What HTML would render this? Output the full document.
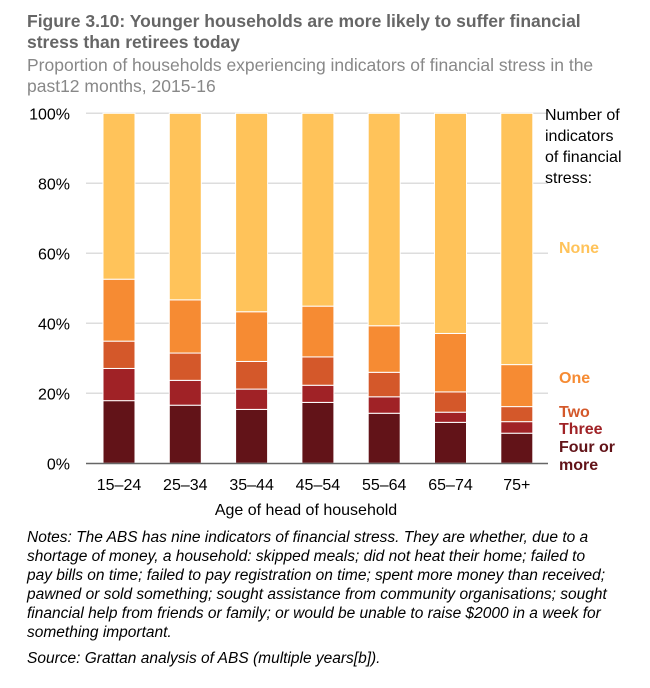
<!DOCTYPE html>
<html><head><meta charset="utf-8"><style>
body{margin:0;background:#fff;width:650px;height:688px;overflow:hidden;font-family:"Liberation Sans",sans-serif}
svg{position:absolute;left:0;top:0}
</style></head><body>
<svg width="650" height="688">
<g font-size="17.5" font-weight="bold" fill="#666">
<text x="27" y="27">Figure 3.10: Younger households are more likely to suffer financial</text>
<text x="27" y="48">stress than retirees today</text></g>
<g font-size="17.5" fill="#888">
<text x="27" y="71">Proportion of households experiencing indicators of financial stress in the</text>
<text x="27" y="92">past12 months, 2015-16</text></g>
<g id="grid"></g><g id="bars"></g><g id="ylab"></g><g id="xlab"></g>
<line x1="86" x2="548" y1="463.5" y2="463.5" stroke="#666" stroke-width="1.5"/>
<g font-size="16">
<text x="545" y="120" fill="#000">Number of</text>
<text x="545" y="141" fill="#000">indicators</text>
<text x="545" y="162" fill="#000">of financial</text>
<text x="545" y="183" fill="#000">stress:</text>
<text x="559" y="253" fill="#FFC35A" font-weight="bold">None</text>
<text x="559" y="383" fill="#F68B33" font-weight="bold">One</text>
<text x="559" y="417" fill="#D4582A" font-weight="bold">Two</text>
<text x="559" y="434" fill="#A02226" font-weight="bold">Three</text>
<text x="559" y="452" fill="#621318" font-weight="bold">Four or</text>
<text x="559" y="470" fill="#621318" font-weight="bold">more</text></g>
<text x="306" y="515" font-size="16" text-anchor="middle" fill="#000">Age of head of household</text>
<g font-size="15.5" font-style="italic" fill="#000">
<text x="27" y="542">Notes: The ABS has nine indicators of financial stress. They are whether, due to a</text>
<text x="27" y="561">shortage of money, a household: skipped meals; did not heat their home; failed to</text>
<text x="27" y="580">pay bills on time; failed to pay registration on time; spent more money than received;</text>
<text x="27" y="599">pawned or sold something; sought assistance from community organisations; sought</text>
<text x="27" y="618">financial help from friends or family; or would be unable to raise $2000 in a week for</text>
<text x="27" y="637">something important.</text>
<text x="27" y="663">Source: Grattan analysis of ABS (multiple years[b]).</text></g>
</svg>
<script>
const categories=["15–24","25–34","35–44","45–54","55–64","65–74","75+"];
const four=[17.9,16.6,15.4,17.4,14.3,11.7,8.6];
const three=[9.2,7.1,5.8,4.9,4.7,2.9,3.3];
const two=[7.8,7.8,7.9,8.1,7.0,5.8,4.3];
const one=[17.7,15.2,14.2,14.5,13.3,16.7,12.0];
const none=[47.4,53.3,56.7,55.1,60.7,62.9,71.8];
const yTicks=[0,20,40,60,80,100];
const NS="http://www.w3.org/2000/svg";
const y=v=>463.3-v*3.5;
const xc=i=>119+i*66.3;
function mk(t,a,p){const e=document.createElementNS(NS,t);for(const k in a)e.setAttribute(k,a[k]);document.getElementById(p).appendChild(e);return e;}
yTicks.forEach(t=>{
 if(t>0){const g=mk('line',{x1:86,x2:548,y1:y(t),y2:y(t),stroke:'#ddd','stroke-width':1.5},'grid');
 
 }
 const l=mk('text',{x:70,y:y(t)+6,'text-anchor':'end','font-size':16,fill:'#000'},'ylab');l.textContent=t+'%';
 
 
});
const series=[[four,'#621318','four'],[three,'#A02226','three'],[two,'#D4582A','two'],[one,'#F68B33','one'],[none,'#FFC35A','none']];
categories.forEach((c,i)=>{
 let cum=0;
 series.forEach(([arr,col,n])=>{
  const v=arr[i];
  const r=mk('rect',{x:xc(i)-16,y:y(cum+v),width:32,height:v*3.5,fill:col,stroke:'#fff','stroke-width':1},'bars');
  
  
  cum+=v;
 });
 const t=mk('text',{x:xc(i),y:490,'text-anchor':'middle','font-size':16,fill:'#000'},'xlab');t.textContent=c;
 
 
});
</script>
</body></html>
